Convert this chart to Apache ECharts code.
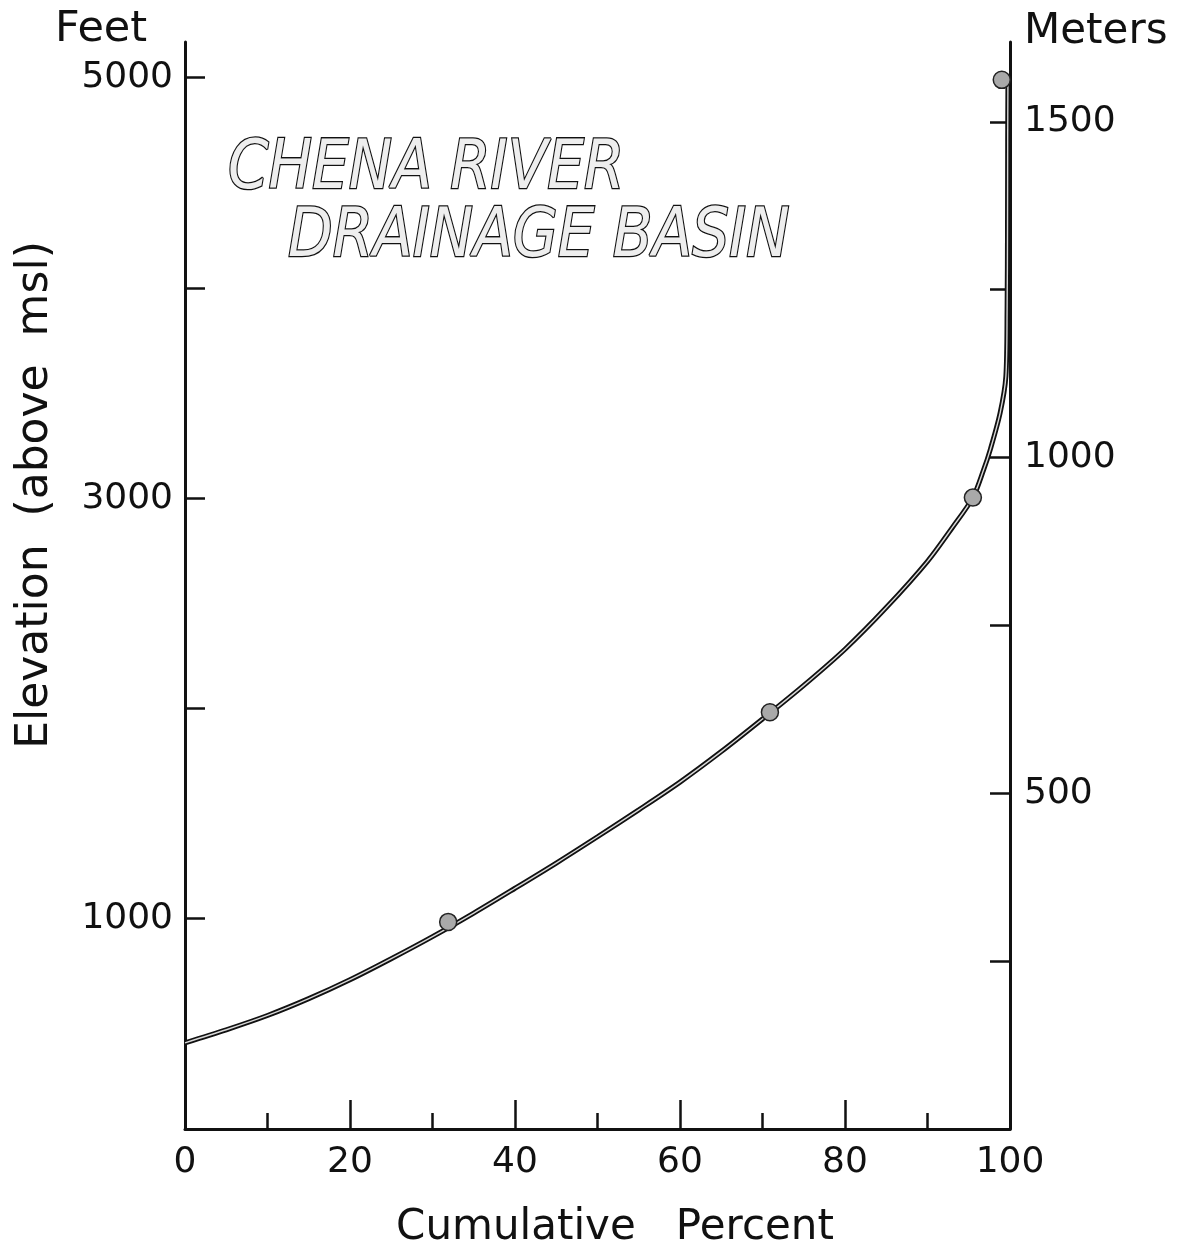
<!DOCTYPE html>
<html>
<head>
<meta charset="utf-8">
<script src="https://cdn.jsdelivr.net/npm/echarts@6/dist/echarts.min.js"></script>
<style>
html,body{margin:0;padding:0;background:#fff;}
#chart{width:1179px;height:1254px;}
</style>
</head>
<body>
<div id="chart"></div>
<script>
// ---- data ----
const curvePercent = [0, 5, 10, 15, 20, 25, 30, 35, 40, 45, 50, 55, 60, 65, 70, 75, 80, 85, 90, 93, 95.5, 96.8, 97.6, 98.8, 99.5, 99.65, 99.7, 99.72, 99.75];
const curveFeet    = [410, 472, 540, 620, 710, 810, 915, 1027, 1145, 1265, 1390, 1518, 1650, 1795, 1950, 2110, 2282, 2480, 2700, 2860, 3003, 3135, 3230, 3405, 3580, 3900, 4300, 4700, 4990];
const markerPercent = [31.9, 70.9, 95.5, 99.0];
const markerFeet    = [985, 1982, 3003, 4990];
const feetTicks    = [1000, 2000, 3000, 4000, 5000];
const feetLabels   = [1000, 3000, 5000];
const meterTicks   = [250, 500, 750, 1000, 1250, 1500];
const meterLabels  = [500, 1000, 1500];
const percentTicks = [0, 20, 40, 60, 80, 100];
const titleLines   = ['CHENA RIVER', 'DRAINAGE BASIN'];

const FONT = 'DejaVu Sans';
const INK = '#111';

const curve = curvePercent.map((p, i) => [p, curveFeet[i]]);
const markers = markerPercent.map((p, i) => [p, markerFeet[i]]);

const chart = echarts.init(document.getElementById('chart'), null, {renderer: 'canvas'});
chart.setOption({
  animation: false,
  backgroundColor: '#fff',
  grid: {left: 185, right: 169, top: 42, bottom: 125, containLabel: false},
  xAxis: {
    type: 'value', min: 0, max: 100, interval: 20,
    axisLine: {show: true, onZero: false, lineStyle: {color: INK, width: 3}},
    axisTick: {show: true, inside: true, length: 29, lineStyle: {color: INK, width: 2.5}},
    minorTick: {show: true, splitNumber: 2, length: 16, lineStyle: {color: INK, width: 2.5}},
    axisLabel: {color: INK, fontFamily: FONT, fontSize: 36, margin: 16,
      formatter: v => percentTicks.includes(v) ? String(v) : ''},
    splitLine: {show: false}
  },
  yAxis: [{
    type: 'value', position: 'left', min: 0, max: 5170,
    axisLine: {show: true, onZero: false, lineStyle: {color: INK, width: 3}},
    axisTick: {show: true, inside: true, length: 20, customValues: feetTicks, lineStyle: {color: INK, width: 2.5}},
    axisLabel: {color: INK, fontFamily: FONT, fontSize: 36, margin: 12, customValues: feetLabels,
      formatter: v => String(v)},
    splitLine: {show: false}
  }, {
    type: 'value', position: 'right', min: 0, max: 1619,
    alignTicks: false,
    axisLine: {show: true, onZero: false, lineStyle: {color: INK, width: 3}},
    axisTick: {show: true, inside: true, length: 20, customValues: meterTicks, lineStyle: {color: INK, width: 2.5}},
    axisLabel: {color: INK, fontFamily: FONT, fontSize: 36, margin: 14, customValues: meterLabels,
      formatter: v => String(v)},
    splitLine: {show: false}
  }],
  series: [{
    type: 'line', data: curve, yAxisIndex: 0, smooth: 0.3, symbol: 'none',
    lineStyle: {color: INK, width: 5}, z: 3
  }, {
    type: 'line', data: curve, yAxisIndex: 0, smooth: 0.3, symbol: 'none',
    lineStyle: {color: '#d8d8d8', width: 1.4}, z: 4
  }, {
    type: 'scatter', data: markers, yAxisIndex: 0, symbol: 'circle', symbolSize: 17,
    itemStyle: {color: '#a9a9a9', borderColor: '#222', borderWidth: 1.5, opacity: 1}, z: 5
  }],
  graphic: [
    {type: 'text', left: 55, top: 8, style: {text: 'Feet', font: '43px "DejaVu Sans"', fill: INK}},
    {type: 'text', left: 1024, top: 11, style: {text: 'Meters', font: '42px "DejaVu Sans"', fill: INK}},
    {type: 'text', x: 36, y: 495, rotation: Math.PI / 2,
      style: {text: 'Elevation  (above  msl)', font: '44px "DejaVu Sans"', fill: INK, align: 'center', verticalAlign: 'middle'}},
    {type: 'text', x: 615, y: 1228,
      style: {text: 'Cumulative   Percent', font: '42px "DejaVu Sans"', fill: INK, align: 'center', verticalAlign: 'middle'}},
    {type: 'text', x: 228, y: 170, scaleY: 1.18,
      style: {text: titleLines[0], font: 'italic 58px "DejaVu Sans"', fill: '#eee', stroke: INK, lineWidth: 2.2, align: 'left', verticalAlign: 'middle'}},
    {type: 'text', x: 288, y: 238, scaleY: 1.18,
      style: {text: titleLines[1], font: 'italic 58px "DejaVu Sans"', fill: '#eee', stroke: INK, lineWidth: 2.2, align: 'left', verticalAlign: 'middle'}}
  ]
});
</script>
</body>
</html>
